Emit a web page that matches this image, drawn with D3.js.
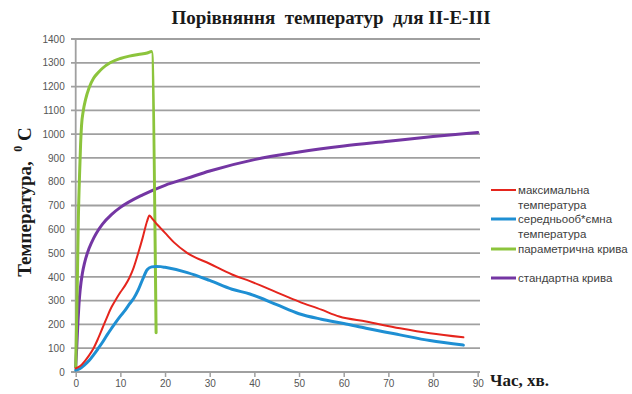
<!DOCTYPE html>
<html>
<head>
<meta charset="utf-8">
<script src="https://cdn.jsdelivr.net/npm/d3@7"></script>
<style>
  html, body { margin: 0; padding: 0; background: #fff; }
  svg { display: block; }
</style>
</head>
<body>
<svg id="chart" width="632" height="394"></svg>
<script>
// Time, minutes / temperature, °C
const maxTime  = [0, 1, 2, 3, 4, 5, 6, 7, 8, 9, 10, 11, 12, 13, 14, 15, 16, 16.5, 17, 18, 19, 20, 22, 25, 30, 35, 39, 45, 50, 55, 59, 65, 72.6, 79.3, 86.8];
const maxTemp  = [15, 25, 45, 70, 100, 140, 185, 230, 272, 305, 335, 362, 395, 440, 500, 565, 635, 658, 648, 625, 605, 585, 545, 500, 455, 410, 382, 335, 296, 262, 233, 212, 184, 163, 146];

const avgTime  = [0, 1, 2, 3, 4, 5, 6, 7, 8, 9, 10, 11, 12, 13, 14, 15, 16, 17, 18, 19, 20, 25, 30, 35, 39, 45, 50, 55, 60, 65, 72.6, 79.3, 86.8];
const avgTemp  = [8, 15, 30, 48, 72, 98, 125, 155, 183, 210, 235, 258, 285, 310, 345, 390, 430, 442, 444, 443, 440, 418, 385, 348, 328, 283, 245, 222, 204, 184, 156, 132, 113];

const paramTime = [0, 0.3, 0.6, 0.9, 1.1, 1.3, 1.7, 2.2, 3, 4, 5, 6, 7.7, 10, 12, 14, 16, 17, 18];
const paramTemp = [20, 300, 650, 850, 960, 1035, 1098, 1145, 1195, 1235, 1258, 1277, 1300, 1318, 1328, 1335, 1341, 1347, 165];

const stdTime  = [0, 0.25, 0.5, 0.75, 1, 1.5, 2, 3, 4, 5, 6, 8, 10, 15, 20, 25, 30, 40, 50, 60, 70, 80, 90];
const stdTemp  = [20, 110, 210, 290, 345, 415, 460, 520, 562, 595, 622, 662, 692, 745, 785, 815, 845, 893, 925, 950, 970, 990, 1007];

const xTicks = [0, 10, 20, 30, 40, 50, 60, 70, 80, 90];
const yTicks = [0, 100, 200, 300, 400, 500, 600, 700, 800, 900, 1000, 1100, 1200, 1300, 1400];

const seriesNames = ["максимальна\nтемпература", "середньооб*ємна\nтемпература", "параметрична крива", "стандартна крива"];
const seriesColors = ["#e5251d", "#1e8fd3", "#8cc43c", "#7436a3"];
const seriesWidths = [2, 3, 3, 3];

const svg = d3.select("#chart");
const x = d3.scaleLinear().domain([0, 90]).range([75.7, 477.7]);
const y = d3.scaleLinear().domain([0, 1400]).range([372, 39]);

const gridColor = "#a0a0a0";
const tickFont = "'Liberation Sans', Arial, sans-serif";

// horizontal gridlines
svg.append("g")
  .selectAll("line")
  .data(yTicks)
  .join("line")
  .attr("x1", 71).attr("x2", 480)
  .attr("y1", d => y(d)).attr("y2", d => y(d))
  .attr("stroke", gridColor).attr("stroke-width", 1.8);

// y axis line
svg.append("line")
  .attr("x1", x(0)).attr("x2", x(0))
  .attr("y1", y(1400)).attr("y2", y(0))
  .attr("stroke", gridColor).attr("stroke-width", 1.8);

// y axis labels
const yAxis = d3.axisLeft(y).tickValues(yTicks).tickFormat(d3.format("d")).tickSize(0).tickPadding(9);
svg.append("g")
  .attr("transform", `translate(${x(0) - 2},0)`)
  .call(yAxis)
  .call(g => g.select(".domain").remove())
  .call(g => g.selectAll("text")
    .attr("fill", "#555")
    .style("font-family", tickFont)
    .style("font-size", "10px"));

// x axis
const xAxis = d3.axisBottom(x).tickValues(xTicks).tickFormat(d3.format("d")).tickSize(5).tickPadding(3);
svg.append("g")
  .attr("transform", `translate(0,${y(0)})`)
  .call(xAxis)
  .call(g => g.select(".domain").attr("stroke", gridColor).attr("stroke-width", 1.8)
    .attr("d", `M${x(0)},0H480`))
  .call(g => g.selectAll(".tick line").attr("stroke", gridColor).attr("stroke-width", 1.5))
  .call(g => g.selectAll("text")
    .attr("fill", "#555")
    .style("font-family", tickFont)
    .style("font-size", "10px"));

// series lines
const series = [
  [maxTime, maxTemp],
  [avgTime, avgTemp],
  [paramTime, paramTemp],
  [stdTime, stdTemp]
];
const line = d3.line().x(d => x(d[0])).y(d => y(d[1])).curve(d3.curveMonotoneX);
const drawOrder = [3, 2, 1, 0];
drawOrder.forEach(i => {
  const [ts, vs] = series[i];
  svg.append("path")
    .datum(ts.map((t, k) => [t, vs[k]]))
    .attr("d", line)
    .attr("fill", "none")
    .attr("stroke", seriesColors[i])
    .attr("stroke-width", seriesWidths[i])
    .attr("stroke-linejoin", "round")
    .attr("stroke-linecap", "round");
});

// title
svg.append("text")
  .attr("x", 331).attr("y", 24)
  .attr("text-anchor", "middle")
  .style("font-family", "'Liberation Serif', 'Times New Roman', serif")
  .style("font-weight", "bold")
  .style("font-size", "19px")
  .style("white-space", "pre")
  .attr("fill", "#1a1a1a")
  .text("Порівняння  температур  для II-E-III");

// y axis title
const yTitle = svg.append("text")
  .attr("transform", "translate(31,202) rotate(-90)")
  .attr("text-anchor", "middle")
  .style("font-family", "'Liberation Serif', 'Times New Roman', serif")
  .style("font-weight", "bold")
  .style("font-size", "19px")
  .style("white-space", "pre")
  .attr("fill", "#1a1a1a");
yTitle.append("tspan").text("Температура,  ");
yTitle.append("tspan").attr("dy", -9).style("font-size", "12px").text("0");
yTitle.append("tspan").attr("dy", 9).text(" C");

// x axis title
svg.append("text")
  .attr("x", 490).attr("y", 386)
  .style("font-family", "'Liberation Serif', 'Times New Roman', serif")
  .style("font-weight", "bold")
  .style("font-size", "17px")
  .attr("fill", "#1a1a1a")
  .text("Час, хв.");

// legend
const legendY = [190, 219, 249, 278];
const legend = svg.append("g");
seriesNames.forEach((name, i) => {
  legend.append("line")
    .attr("x1", 491).attr("x2", 516)
    .attr("y1", legendY[i]).attr("y2", legendY[i])
    .attr("stroke", seriesColors[i])
    .attr("stroke-width", seriesWidths[i]);
  const lines = name.split("\n");
  lines.forEach((txt, k) => {
    legend.append("text")
      .attr("x", 518).attr("y", legendY[i] + 4 + k * 14.5)
      .style("font-family", tickFont)
      .style("font-size", "11.5px")
      .attr("fill", "#404040")
      .text(txt);
  });
});
</script>
</body>
</html>
